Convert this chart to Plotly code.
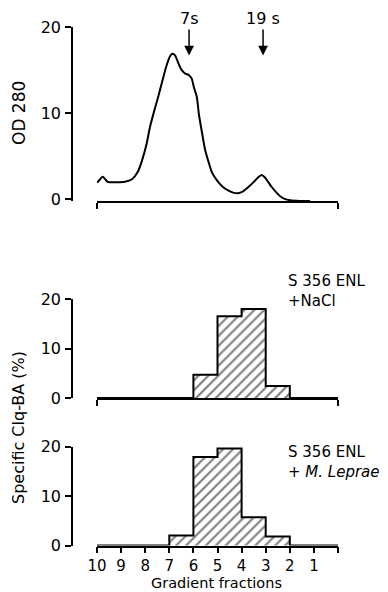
import plotly.graph_objects as go

# ---------------- data ----------------
fractions = [10, 9, 8, 7, 6, 5, 4, 3, 2, 1]
tick_labels = ["10", "9", "8", "7", "6", "5", "4", "3", "2", "1", ""]
nacl_pct = [0, 0, 0, 0, 4.7, 16.5, 18.0, 2.4, 0, 0]
leprae_pct = [0, 0, 0, 2.0, 17.9, 19.6, 5.7, 1.8, 0, 0]

od_pos = [9.99, 9.76, 9.56, 9.25, 8.84, 8.55, 8.30, 8.13, 7.95, 7.80, 7.63, 7.46,
          7.30, 7.14, 6.97, 6.87, 6.76, 6.64, 6.51, 6.35, 6.18, 6.07, 5.98, 5.86,
          5.77, 5.66, 5.52, 5.38, 5.23, 5.03, 4.81, 4.56, 4.32, 4.15, 3.94, 3.72,
          3.49, 3.32, 3.17, 3.03, 2.90, 2.75, 2.57, 2.41, 2.24, 1.99, 1.58, 1.16]
od_280 = [1.9, 2.6, 2.0, 1.95, 2.0, 2.3, 3.2, 4.5, 6.3, 8.4, 10.2, 11.9,
          13.6, 15.3, 16.6, 16.9, 16.7, 15.9, 15.1, 14.6, 14.4, 14.0, 13.0, 11.9,
          9.8, 8.0, 5.8, 4.4, 3.1, 2.2, 1.5, 1.0, 0.72, 0.68, 0.9, 1.4,
          2.0, 2.5, 2.8, 2.5, 2.0, 1.4, 0.8, 0.35, 0.05, -0.15, -0.22, -0.22]

markers = [("7s", 6.18, 16.7), ("19 s", 3.11, 16.7)]

# ---------------- layout helpers ----------------
W, H = 388, 592
FONT = "DejaVu Sans"
def py(px):
    return 1 - px / H
def pxx(px):
    return px / W

fig = go.Figure()

# top curve
fig.add_trace(go.Scatter(x=od_pos, y=od_280, mode="lines", line=dict(color="black", width=2,
                         shape="spline", smoothing=0.6), xaxis="x", yaxis="y", showlegend=False))

def add_hist(vals, xa, ya):
    fig.add_trace(go.Bar(x=fractions, y=vals, offset=-1, width=1, xaxis=xa, yaxis=ya,
                         marker=dict(color="white", line=dict(width=0),
                                     pattern=dict(shape="/", fgcolor="black", bgcolor="white",
                                                  size=7, solidity=0.3)),
                         showlegend=False))
    fig.add_trace(go.Scatter(x=fractions + [0], y=vals + [0], mode="lines",
                             line=dict(color="black", width=2, shape="hv"),
                             xaxis=xa, yaxis=ya, showlegend=False))

add_hist(nacl_pct, "x2", "y2")
add_hist(leprae_pct, "x3", "y3")

xdom = [pxx(97), pxx(338)]
ypos = pxx(72)
common_y = dict(anchor="free", position=ypos, showline=True, linecolor="black", linewidth=1.6,
                ticks="outside", ticklen=6, tickwidth=1.6, tickcolor="black",
                tickvals=[0, 10, 20], showgrid=False, zeroline=False, automargin=False,
                tickfont=dict(family=FONT, size=16, color="black"), ticklabelstandoff=1)
common_x = dict(domain=xdom, range=[10, 0], showline=True, linecolor="black", linewidth=1.6,
                ticks="outside", ticklen=6, tickwidth=1.6, tickcolor="black",
                showgrid=False, zeroline=False, automargin=False)

fig.update_layout(
    width=W, height=H, margin=dict(l=0, r=0, t=0, b=0, autoexpand=False),
    paper_bgcolor="white", plot_bgcolor="white", bargap=0,
    font=dict(family=FONT, color="black"),
    xaxis=dict(**common_x, anchor="y", tickvals=[10, 0], showticklabels=False),
    xaxis2=dict(**common_x, anchor="y2", tickvals=[10, 0], showticklabels=False),
    xaxis3=dict(**common_x, anchor="y3", tickvals=list(range(10, -1, -1)), ticktext=tick_labels,
                tickfont=dict(family=FONT, size=15, color="black"), ticklabelstandoff=0),
    yaxis=dict(**common_y, domain=[py(201.2), py(27)], range=[-0.25, 20]),
    yaxis2=dict(**common_y, domain=[py(398), py(299)], range=[0, 20]),
    yaxis3=dict(**common_y, domain=[py(545.5), py(446.5)], range=[0, 20]),
)

ann = []
for label, xv, yv in markers:
    ann.append(dict(x=xv, y=yv, xref="x", yref="y", text=label, showarrow=True,
                    ax=0, ay=-37, arrowhead=2, arrowsize=1.3, arrowwidth=1.5, arrowcolor="black",
                    font=dict(family=FONT, size=16, color="black")))

def txt(text, x, y, size=15, angle=0, xanchor="left"):
    ann.append(dict(text=text, x=pxx(x), y=py(y), xref="paper", yref="paper", showarrow=False,
                    xanchor=xanchor, yanchor="middle", textangle=angle, align="left",
                    font=dict(family=FONT, size=size, color="black")))

txt("OD 280", 19, 113, size=17, angle=-90, xanchor="center")
txt("Specific Clq-BA (%)", 18, 428, size=16, angle=-90, xanchor="center")
txt("S 356 ENL<br>+NaCl", 286, 291, size=15)
txt("S 356 ENL<br>+ <i>M. Leprae</i>", 286, 462, size=15)
txt("Gradient fractions", 216, 582.5, size=14.5, xanchor="center")

fig.update_layout(annotations=ann)
fig.write_html("out.html", post_script="document.body.style.margin='0';",
               config={"displayModeBar": False})
